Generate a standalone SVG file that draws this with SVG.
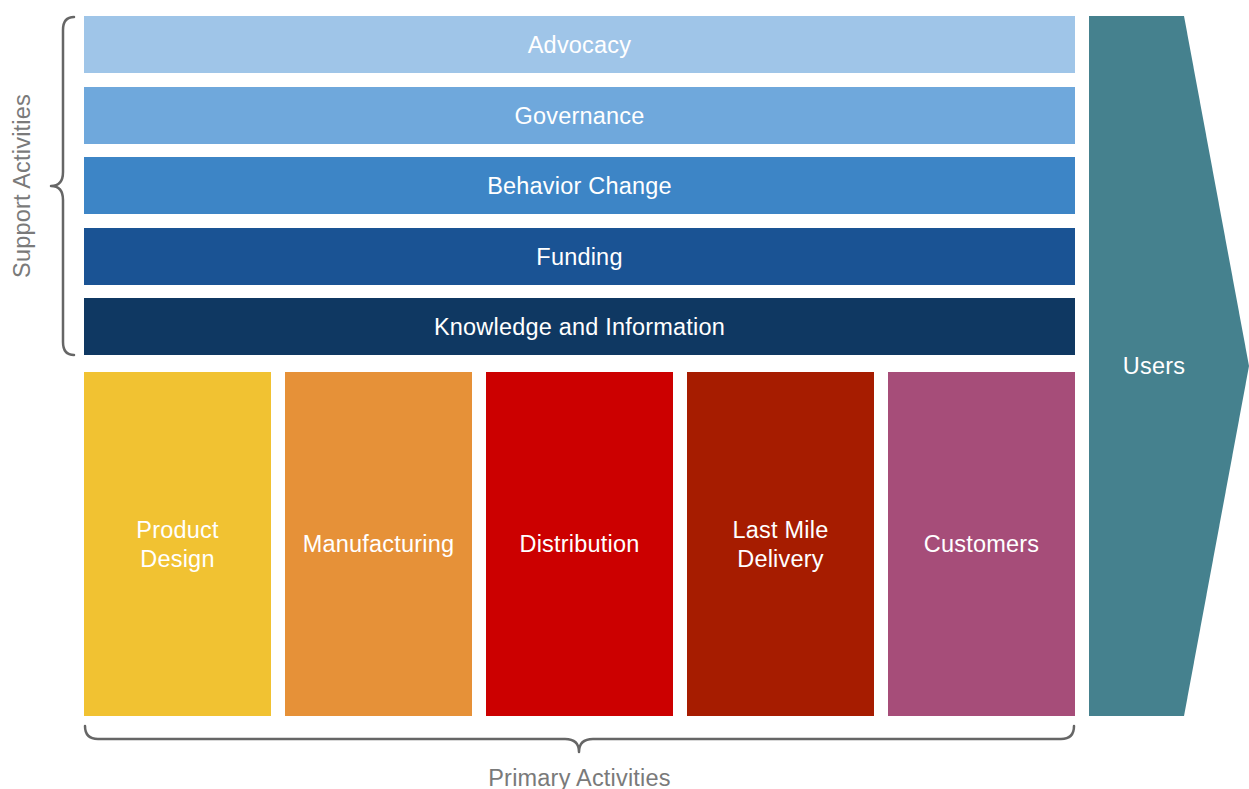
<svg xmlns="http://www.w3.org/2000/svg" width="1249" height="789" viewBox="0 0 1249 789">
<style>
.t{font-family:"Liberation Sans",Arial,sans-serif;font-size:23.5px;fill:#ffffff;text-anchor:middle;letter-spacing:0.2px}
.g{font-family:"Liberation Sans",Arial,sans-serif;font-size:23.5px;fill:#7a7a7a;text-anchor:middle;letter-spacing:0.2px}
.br{fill:none;stroke:#666666;stroke-width:2.5;stroke-linecap:round;stroke-linejoin:round}
</style>
<rect width="1249" height="789" fill="#ffffff"/>
<g id="advocacy"><rect x="84" y="16" width="991" height="57" fill="#9fc5e8"/><text class="t" x="579.5" y="53">Advocacy</text></g>
<g id="governance"><rect x="84" y="87" width="991" height="57" fill="#6fa8dc"/><text class="t" x="579.5" y="124">Governance</text></g>
<g id="behavior"><rect x="84" y="157" width="991" height="57" fill="#3d85c6"/><text class="t" x="579.5" y="194">Behavior Change</text></g>
<g id="funding"><rect x="84" y="228" width="991" height="57" fill="#1a5394"/><text class="t" x="579.5" y="265">Funding</text></g>
<g id="knowledge"><rect x="84" y="298" width="991" height="57" fill="#0f3862"/><text class="t" x="579.5" y="335">Knowledge and Information</text></g>
<g id="product"><rect x="84" y="372" width="187" height="344" fill="#f1c232"/><text class="t" x="177.5" y="538">Product</text><text class="t" x="177.5" y="567">Design</text></g>
<g id="manufacturing"><rect x="285" y="372" width="187" height="344" fill="#e69138"/><text class="t" x="378.5" y="552">Manufacturing</text></g>
<g id="distribution"><rect x="486" y="372" width="187" height="344" fill="#cc0000"/><text class="t" x="579.5" y="552">Distribution</text></g>
<g id="lastmile"><rect x="687" y="372" width="187" height="344" fill="#a61c00"/><text class="t" x="780.5" y="538">Last Mile</text><text class="t" x="780.5" y="567">Delivery</text></g>
<g id="customers"><rect x="888" y="372" width="187" height="344" fill="#a64d79"/><text class="t" x="981.5" y="552">Customers</text></g>
<g id="users"><polygon points="1089,16 1184,16 1249,366 1184,716 1089,716" fill="#45818e"/><text class="t" x="1154" y="374">Users</text></g>
<g id="connectors">
<path class="br" d="M74,17 Q63,17 63,30 L63,172 Q63,186 51,186 Q63,186 63,200 L63,342 Q63,355 74,355"/>
<path class="br" d="M85,726 Q85,739 98,739 L565,739 Q579,739 579,752 Q579,739 593,739 L1061,739 Q1074,739 1074,726"/>
</g>
<g id="support-label"><text class="g" transform="translate(30,186) rotate(-90)">Support Activities</text></g>
<g id="primary-label"><text class="g" x="579.5" y="786">Primary Activities</text></g>
</svg>
